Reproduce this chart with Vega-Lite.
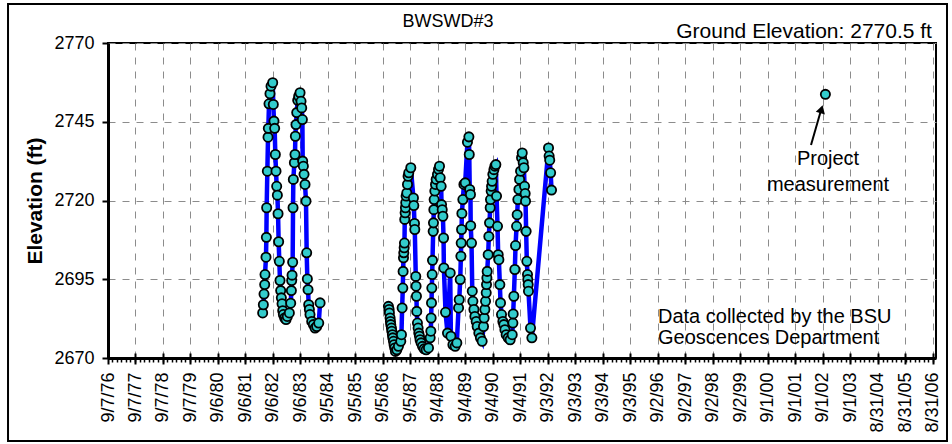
{
  "$schema": "https://vega.github.io/schema/vega-lite/v6.json",
  "width": 828,
  "height": 315,
  "autosize": "none",
  "padding": {"left": 108, "top": 43, "right": 16, "bottom": 86},
  "background": "white",
  "config": {
    "font": "Liberation Sans",
    "view": {"stroke": "black", "strokeWidth": 2}
  },
  "title": {"text": "BWSWD#3", "fontSize": 18, "fontWeight": "normal", "color": "black", "anchor": "middle", "dx": -74, "offset": -28},
  "datasets": {
    "well": [
      {"date": "1982-04-22", "elev": 2684.3}, {"date": "1982-05-01", "elev": 2686.9}, {"date": "1982-05-10", "elev": 2690.3},
      {"date": "1982-05-19", "elev": 2693.3}, {"date": "1982-05-23", "elev": 2696.5}, {"date": "1982-06-05", "elev": 2702.0},
      {"date": "1982-06-10", "elev": 2708.3}, {"date": "1982-06-14", "elev": 2717.7}, {"date": "1982-06-23", "elev": 2729.3},
      {"date": "1982-07-02", "elev": 2740.1}, {"date": "1982-07-06", "elev": 2742.9}, {"date": "1982-07-15", "elev": 2750.7},
      {"date": "1982-07-28", "elev": 2753.9}, {"date": "1982-08-11", "elev": 2756.3}, {"date": "1982-09-02", "elev": 2757.4},
      {"date": "1982-09-10", "elev": 2750.5}, {"date": "1982-09-19", "elev": 2745.2}, {"date": "1982-09-28", "elev": 2742.9},
      {"date": "1982-10-07", "elev": 2734.6}, {"date": "1982-10-16", "elev": 2729.3}, {"date": "1982-10-25", "elev": 2724.5},
      {"date": "1982-11-03", "elev": 2721.7}, {"date": "1982-11-12", "elev": 2715.8}, {"date": "1982-11-20", "elev": 2706.9},
      {"date": "1982-11-29", "elev": 2700.7}, {"date": "1982-12-08", "elev": 2694.6}, {"date": "1982-12-17", "elev": 2691.4},
      {"date": "1982-12-26", "elev": 2689.1}, {"date": "1983-01-04", "elev": 2687.2}, {"date": "1983-01-13", "elev": 2685.0},
      {"date": "1983-01-22", "elev": 2683.8}, {"date": "1983-02-08", "elev": 2682.7}, {"date": "1983-02-26", "elev": 2682.2},
      {"date": "1983-03-15", "elev": 2683.2}, {"date": "1983-04-11", "elev": 2684.3}, {"date": "1983-04-29", "elev": 2687.4},
      {"date": "1983-05-08", "elev": 2691.4}, {"date": "1983-05-12", "elev": 2694.6}, {"date": "1983-05-17", "elev": 2696.3},
      {"date": "1983-05-25", "elev": 2700.4}, {"date": "1983-05-30", "elev": 2717.7}, {"date": "1983-06-03", "elev": 2726.7},
      {"date": "1983-06-17", "elev": 2732.0}, {"date": "1983-06-25", "elev": 2734.6}, {"date": "1983-06-30", "elev": 2740.4},
      {"date": "1983-07-08", "elev": 2744.1}, {"date": "1983-07-18", "elev": 2747.9}, {"date": "1983-07-31", "elev": 2751.8},
      {"date": "1983-08-13", "elev": 2753.1}, {"date": "1983-08-31", "elev": 2754.2}, {"date": "1983-09-13", "elev": 2751.5},
      {"date": "1983-09-22", "elev": 2749.4}, {"date": "1983-10-01", "elev": 2745.7}, {"date": "1983-10-05", "elev": 2732.5},
      {"date": "1983-10-14", "elev": 2730.9}, {"date": "1983-10-23", "elev": 2728.3}, {"date": "1983-11-05", "elev": 2725.1},
      {"date": "1983-11-18", "elev": 2719.8}, {"date": "1983-11-27", "elev": 2703.4}, {"date": "1983-12-06", "elev": 2695.1},
      {"date": "1983-12-15", "elev": 2691.7}, {"date": "1983-12-24", "elev": 2686.9}, {"date": "1984-01-02", "elev": 2685.4},
      {"date": "1984-01-10", "elev": 2683.8}, {"date": "1984-02-02", "elev": 2681.6}, {"date": "1984-02-24", "elev": 2680.6},
      {"date": "1984-03-17", "elev": 2679.5}, {"date": "1984-04-08", "elev": 2680.0}, {"date": "1984-05-05", "elev": 2681.1},
      {"date": "1984-05-23", "elev": 2687.5},
      {"date": "1986-11-16", "elev": 2686.4}, {"date": "1986-11-25", "elev": 2685.4}, {"date": "1986-11-29", "elev": 2684.3},
      {"date": "1986-12-08", "elev": 2682.7}, {"date": "1986-12-13", "elev": 2681.6}, {"date": "1986-12-17", "elev": 2680.6},
      {"date": "1986-12-26", "elev": 2679.5}, {"date": "1986-12-31", "elev": 2678.5}, {"date": "1987-01-08", "elev": 2677.4},
      {"date": "1987-01-13", "elev": 2676.4}, {"date": "1987-01-22", "elev": 2675.3}, {"date": "1987-01-30", "elev": 2674.2},
      {"date": "1987-02-08", "elev": 2673.2}, {"date": "1987-02-17", "elev": 2672.1}, {"date": "1987-03-07", "elev": 2672.6},
      {"date": "1987-03-29", "elev": 2673.7}, {"date": "1987-04-29", "elev": 2675.3}, {"date": "1987-05-08", "elev": 2677.4},
      {"date": "1987-05-17", "elev": 2685.9}, {"date": "1987-05-26", "elev": 2692.2}, {"date": "1987-05-30", "elev": 2697.5},
      {"date": "1987-06-04", "elev": 2701.8}, {"date": "1987-06-08", "elev": 2703.4}, {"date": "1987-06-13", "elev": 2705.0},
      {"date": "1987-06-17", "elev": 2706.5}, {"date": "1987-06-21", "elev": 2714.0}, {"date": "1987-06-26", "elev": 2716.1},
      {"date": "1987-06-30", "elev": 2717.7}, {"date": "1987-07-04", "elev": 2719.3}, {"date": "1987-07-09", "elev": 2721.4},
      {"date": "1987-07-18", "elev": 2722.4}, {"date": "1987-07-27", "elev": 2725.1}, {"date": "1987-08-04", "elev": 2727.7},
      {"date": "1987-08-13", "elev": 2728.8}, {"date": "1987-09-09", "elev": 2730.4}, {"date": "1987-10-14", "elev": 2720.8},
      {"date": "1987-10-19", "elev": 2718.4}, {"date": "1987-10-28", "elev": 2712.7}, {"date": "1987-11-01", "elev": 2710.8},
      {"date": "1987-11-14", "elev": 2695.9}, {"date": "1987-11-18", "elev": 2692.8}, {"date": "1987-11-23", "elev": 2689.6},
      {"date": "1987-11-27", "elev": 2684.8}, {"date": "1987-12-06", "elev": 2681.1}, {"date": "1987-12-15", "elev": 2679.5},
      {"date": "1987-12-24", "elev": 2677.9}, {"date": "1988-01-02", "elev": 2676.9}, {"date": "1988-01-10", "elev": 2675.8},
      {"date": "1988-01-24", "elev": 2674.8}, {"date": "1988-02-11", "elev": 2673.7}, {"date": "1988-03-04", "elev": 2672.9},
      {"date": "1988-03-31", "elev": 2672.6}, {"date": "1988-05-01", "elev": 2673.2}, {"date": "1988-05-23", "elev": 2676.4},
      {"date": "1988-06-01", "elev": 2678.5}, {"date": "1988-06-05", "elev": 2682.7}, {"date": "1988-06-10", "elev": 2687.5},
      {"date": "1988-06-14", "elev": 2692.2}, {"date": "1988-06-19", "elev": 2696.5}, {"date": "1988-06-23", "elev": 2701.0},
      {"date": "1988-07-02", "elev": 2710.2}, {"date": "1988-07-06", "elev": 2712.9}, {"date": "1988-07-11", "elev": 2717.1},
      {"date": "1988-07-15", "elev": 2720.3}, {"date": "1988-07-24", "elev": 2723.0}, {"date": "1988-08-02", "elev": 2725.1},
      {"date": "1988-08-11", "elev": 2726.7}, {"date": "1988-08-28", "elev": 2728.3}, {"date": "1988-09-11", "elev": 2729.9},
      {"date": "1988-09-24", "elev": 2730.9}, {"date": "1988-10-03", "elev": 2727.2}, {"date": "1988-10-16", "elev": 2724.5},
      {"date": "1988-10-21", "elev": 2718.7}, {"date": "1988-10-30", "elev": 2717.1}, {"date": "1988-11-08", "elev": 2715.0},
      {"date": "1988-11-17", "elev": 2708.1}, {"date": "1988-11-21", "elev": 2698.6}, {"date": "1988-12-13", "elev": 2684.5},
      {"date": "1989-01-08", "elev": 2677.9}, {"date": "1989-02-13", "elev": 2697.0}, {"date": "1989-02-22", "elev": 2676.9},
      {"date": "1989-03-21", "elev": 2674.2}, {"date": "1989-04-20", "elev": 2673.7}, {"date": "1989-05-12", "elev": 2674.8},
      {"date": "1989-06-04", "elev": 2685.9}, {"date": "1989-06-13", "elev": 2688.5}, {"date": "1989-06-26", "elev": 2694.9},
      {"date": "1989-07-05", "elev": 2702.3}, {"date": "1989-07-09", "elev": 2706.5}, {"date": "1989-07-14", "elev": 2710.8},
      {"date": "1989-07-18", "elev": 2715.9}, {"date": "1989-07-31", "elev": 2720.3}, {"date": "1989-08-14", "elev": 2725.1},
      {"date": "1989-08-31", "elev": 2725.6}, {"date": "1989-09-30", "elev": 2738.5}, {"date": "1989-10-19", "elev": 2740.2},
      {"date": "1989-10-24", "elev": 2734.6}, {"date": "1989-10-30", "elev": 2723.5}, {"date": "1989-11-09", "elev": 2721.9},
      {"date": "1989-11-12", "elev": 2712.0}, {"date": "1989-11-23", "elev": 2706.5}, {"date": "1989-12-03", "elev": 2691.2},
      {"date": "1989-12-11", "elev": 2688.0}, {"date": "1989-12-25", "elev": 2685.4}, {"date": "1990-01-07", "elev": 2683.2},
      {"date": "1990-01-24", "elev": 2681.6}, {"date": "1990-02-06", "elev": 2680.0}, {"date": "1990-02-28", "elev": 2677.9},
      {"date": "1990-03-21", "elev": 2676.4}, {"date": "1990-04-13", "elev": 2675.3}, {"date": "1990-05-01", "elev": 2680.0},
      {"date": "1990-05-10", "elev": 2682.7}, {"date": "1990-05-19", "elev": 2685.4}, {"date": "1990-05-28", "elev": 2688.0},
      {"date": "1990-06-06", "elev": 2690.7}, {"date": "1990-06-10", "elev": 2693.3}, {"date": "1990-06-15", "elev": 2695.4},
      {"date": "1990-06-19", "elev": 2697.5}, {"date": "1990-07-02", "elev": 2702.8}, {"date": "1990-07-11", "elev": 2708.6},
      {"date": "1990-07-20", "elev": 2712.9}, {"date": "1990-07-29", "elev": 2717.7}, {"date": "1990-08-02", "elev": 2720.3},
      {"date": "1990-08-11", "elev": 2723.0}, {"date": "1990-08-16", "elev": 2724.5}, {"date": "1990-08-24", "elev": 2726.1},
      {"date": "1990-09-02", "elev": 2728.3}, {"date": "1990-09-16", "elev": 2729.8}, {"date": "1990-09-29", "elev": 2730.9},
      {"date": "1990-10-12", "elev": 2731.4}, {"date": "1990-10-21", "elev": 2721.4}, {"date": "1990-11-03", "elev": 2711.8},
      {"date": "1990-11-12", "elev": 2702.8}, {"date": "1990-11-21", "elev": 2701.2}, {"date": "1990-12-04", "elev": 2693.3},
      {"date": "1990-12-13", "elev": 2687.5}, {"date": "1990-12-26", "elev": 2683.8}, {"date": "1991-01-13", "elev": 2681.6},
      {"date": "1991-01-26", "elev": 2680.6}, {"date": "1991-02-09", "elev": 2679.0}, {"date": "1991-02-26", "elev": 2677.4},
      {"date": "1991-03-24", "elev": 2676.4}, {"date": "1991-04-20", "elev": 2675.8}, {"date": "1991-05-17", "elev": 2677.4},
      {"date": "1991-05-26", "elev": 2681.1}, {"date": "1991-05-30", "elev": 2684.0}, {"date": "1991-06-08", "elev": 2689.6},
      {"date": "1991-06-21", "elev": 2698.1}, {"date": "1991-06-30", "elev": 2705.7}, {"date": "1991-07-14", "elev": 2711.8},
      {"date": "1991-07-22", "elev": 2715.5}, {"date": "1991-07-31", "elev": 2720.3}, {"date": "1991-08-14", "elev": 2723.5},
      {"date": "1991-08-23", "elev": 2726.7}, {"date": "1991-09-05", "elev": 2729.3}, {"date": "1991-09-18", "elev": 2733.6},
      {"date": "1991-09-27", "elev": 2735.1}, {"date": "1991-10-10", "elev": 2732.0}, {"date": "1991-10-19", "elev": 2730.4},
      {"date": "1991-10-28", "elev": 2724.5}, {"date": "1991-11-05", "elev": 2722.2}, {"date": "1991-11-10", "elev": 2719.8},
      {"date": "1991-11-18", "elev": 2710.2}, {"date": "1991-11-27", "elev": 2700.7}, {"date": "1991-12-06", "elev": 2696.5},
      {"date": "1991-12-10", "elev": 2694.9}, {"date": "1991-12-15", "elev": 2693.3}, {"date": "1991-12-19", "elev": 2691.2},
      {"date": "1992-01-15", "elev": 2679.5}, {"date": "1992-02-02", "elev": 2676.4}, {"date": "1992-09-10", "elev": 2736.7},
      {"date": "1992-09-18", "elev": 2734.1}, {"date": "1992-09-26", "elev": 2732.8}, {"date": "1992-10-08", "elev": 2728.8},
      {"date": "1992-10-20", "elev": 2723.3}
    ],
    "project": [
      {"date": "2002-10-03", "elev": 2753.7}
    ]
  },
  "resolve": {"axis": {"x": "independent"}},
  "layer": [
    {
      "data": {"values": [{}]},
      "mark": {"type": "rect", "fill": "transparent", "stroke": "black", "strokeWidth": 2, "clip": false},
      "encoding": {
        "x": {"datum": {"year": 1973, "month": 1, "date": 19, "utc": true}, "type": "temporal", "axis": null},
        "x2": {"datum": {"year": 2007, "month": 3, "date": 5, "utc": true}},
        "y": {"datum": 2782.4, "type": "quantitative"},
        "y2": {"datum": 2643.65}
      }
    },
    {
      "data": {"name": "well"},
      "transform": [{"filter": {"field": "date", "lt": {"year": 1985, "month": 1, "date": 1, "utc": true}}}],
      "mark": {"type": "line", "color": "#0000FF", "strokeWidth": 4.5},
      "encoding": {
        "x": {
          "field": "date", "type": "temporal",
          "scale": {"type": "utc", "domain": [{"year": 1976, "month": 9, "date": 7, "utc": true}, {"year": 2006, "month": 10, "date": 10, "utc": true}]},
          "axis": {
            "orient": "bottom", "title": null,
            "values": [
              {"year": 1976, "month": 9, "date": 7, "utc": true}, {"year": 1977, "month": 9, "date": 7, "utc": true},
              {"year": 1978, "month": 9, "date": 7, "utc": true}, {"year": 1979, "month": 9, "date": 7, "utc": true},
              {"year": 1980, "month": 9, "date": 6, "utc": true}, {"year": 1981, "month": 9, "date": 6, "utc": true},
              {"year": 1982, "month": 9, "date": 6, "utc": true}, {"year": 1983, "month": 9, "date": 6, "utc": true},
              {"year": 1984, "month": 9, "date": 5, "utc": true}, {"year": 1985, "month": 9, "date": 5, "utc": true},
              {"year": 1986, "month": 9, "date": 5, "utc": true}, {"year": 1987, "month": 9, "date": 5, "utc": true},
              {"year": 1988, "month": 9, "date": 4, "utc": true}, {"year": 1989, "month": 9, "date": 4, "utc": true},
              {"year": 1990, "month": 9, "date": 4, "utc": true}, {"year": 1991, "month": 9, "date": 4, "utc": true},
              {"year": 1992, "month": 9, "date": 3, "utc": true}, {"year": 1993, "month": 9, "date": 3, "utc": true},
              {"year": 1994, "month": 9, "date": 3, "utc": true}, {"year": 1995, "month": 9, "date": 3, "utc": true},
              {"year": 1996, "month": 9, "date": 2, "utc": true}, {"year": 1997, "month": 9, "date": 2, "utc": true},
              {"year": 1998, "month": 9, "date": 2, "utc": true}, {"year": 1999, "month": 9, "date": 2, "utc": true},
              {"year": 2000, "month": 9, "date": 1, "utc": true}, {"year": 2001, "month": 9, "date": 1, "utc": true},
              {"year": 2002, "month": 9, "date": 1, "utc": true}, {"year": 2003, "month": 9, "date": 1, "utc": true},
              {"year": 2004, "month": 8, "date": 31, "utc": true}, {"year": 2005, "month": 8, "date": 31, "utc": true},
              {"year": 2006, "month": 8, "date": 31, "utc": true}
            ],
            "labelExpr": "utcFormat(datum.value, '%-m/%-d/%y')",
            "labelAngle": 270, "labelFontSize": 18, "labelColor": "black", "labelPadding": 8,
            "labelOverlap": false, "labelFlush": false, "labelBound": false,
            "tickSize": 6, "tickWidth": 2, "tickColor": "black",
            "domainColor": "black", "domainWidth": 3,
            "grid": true, "gridColor": "#8c8c8c", "gridDash": [7, 7], "gridWidth": 1
          }
        },
        "y": {
          "field": "elev", "type": "quantitative",
          "scale": {"domain": [2670, 2770], "nice": false, "zero": false},
          "axis": {
            "title": "Elevation (ft)", "titleFontSize": 21, "titleFontWeight": "bold", "titleColor": "black", "titlePadding": 8,
            "values": [2670, 2695, 2720, 2745, 2770], "format": "d",
            "labelFontSize": 18, "labelColor": "black", "labelPadding": 8,
            "tickSize": 6, "tickWidth": 2, "tickColor": "black",
            "domainColor": "black", "domainWidth": 3,
            "grid": true, "gridColor": "#8c8c8c", "gridDash": [7, 7], "gridWidth": 1
          }
        }
      }
    },
    {
      "data": {"name": "well"},
      "transform": [{"filter": {"field": "date", "gte": {"year": 1985, "month": 1, "date": 1, "utc": true}}}],
      "mark": {"type": "line", "color": "#0000FF", "strokeWidth": 4.5},
      "encoding": {
        "x": {"field": "date", "type": "temporal", "axis": null},
        "y": {"field": "elev", "type": "quantitative"}
      }
    },
    {
      "data": {"name": "well"},
      "mark": {"type": "point", "shape": "circle", "filled": true, "fill": "#33CCCC", "stroke": "black", "strokeWidth": 1.8, "size": 85, "opacity": 1},
      "encoding": {
        "x": {
          "field": "date", "type": "temporal",
          "axis": {"orient": "bottom", "title": null, "tickCount": {"interval": "month", "step": 2}, "labels": false, "domain": false, "grid": false, "tickSize": 4, "tickWidth": 1.5, "tickColor": "black"}
        },
        "y": {"field": "elev", "type": "quantitative"}
      }
    },
    {
      "data": {"name": "project"},
      "mark": {"type": "point", "shape": "circle", "filled": true, "fill": "#33CCCC", "stroke": "black", "strokeWidth": 1.8, "size": 85, "opacity": 1},
      "encoding": {
        "x": {
          "field": "date", "type": "temporal",
          "axis": {
            "orient": "bottom", "title": null, "labels": false, "domain": false, "grid": false,
            "tickSize": -5, "tickWidth": 2, "tickColor": "black",
            "values": [
              {"year": 1976, "month": 9, "date": 7, "utc": true}, {"year": 1977, "month": 9, "date": 7, "utc": true},
              {"year": 1978, "month": 9, "date": 7, "utc": true}, {"year": 1979, "month": 9, "date": 7, "utc": true},
              {"year": 1980, "month": 9, "date": 6, "utc": true}, {"year": 1981, "month": 9, "date": 6, "utc": true},
              {"year": 1982, "month": 9, "date": 6, "utc": true}, {"year": 1983, "month": 9, "date": 6, "utc": true},
              {"year": 1984, "month": 9, "date": 5, "utc": true}, {"year": 1985, "month": 9, "date": 5, "utc": true},
              {"year": 1986, "month": 9, "date": 5, "utc": true}, {"year": 1987, "month": 9, "date": 5, "utc": true},
              {"year": 1988, "month": 9, "date": 4, "utc": true}, {"year": 1989, "month": 9, "date": 4, "utc": true},
              {"year": 1990, "month": 9, "date": 4, "utc": true}, {"year": 1991, "month": 9, "date": 4, "utc": true},
              {"year": 1992, "month": 9, "date": 3, "utc": true}, {"year": 1993, "month": 9, "date": 3, "utc": true},
              {"year": 1994, "month": 9, "date": 3, "utc": true}, {"year": 1995, "month": 9, "date": 3, "utc": true},
              {"year": 1996, "month": 9, "date": 2, "utc": true}, {"year": 1997, "month": 9, "date": 2, "utc": true},
              {"year": 1998, "month": 9, "date": 2, "utc": true}, {"year": 1999, "month": 9, "date": 2, "utc": true},
              {"year": 2000, "month": 9, "date": 1, "utc": true}, {"year": 2001, "month": 9, "date": 1, "utc": true},
              {"year": 2002, "month": 9, "date": 1, "utc": true}, {"year": 2003, "month": 9, "date": 1, "utc": true},
              {"year": 2004, "month": 8, "date": 31, "utc": true}, {"year": 2005, "month": 8, "date": 31, "utc": true},
              {"year": 2006, "month": 8, "date": 31, "utc": true}
            ]
          }
        },
        "y": {"field": "elev", "type": "quantitative"}
      }
    },
    {
      "data": {"values": [{}]},
      "mark": {"type": "text", "text": "Ground Elevation: 2770.5 ft", "align": "right", "baseline": "alphabetic", "fontSize": 21, "color": "black", "clip": false},
      "encoding": {
        "x": {"datum": {"year": 2006, "month": 8, "date": 17, "utc": true}, "type": "temporal", "axis": null},
        "y": {"datum": 2771.6, "type": "quantitative"}
      }
    },
    {
      "data": {"values": [{}]},
      "mark": {"type": "text", "text": ["Project", "measurement"], "lineHeight": 26, "align": "center", "baseline": "alphabetic", "fontSize": 20, "color": "black"},
      "encoding": {
        "x": {"datum": {"year": 2002, "month": 11, "date": 7, "utc": true}, "type": "temporal", "axis": null},
        "y": {"datum": 2731.3, "type": "quantitative"}
      }
    },
    {
      "data": {"values": [{}]},
      "mark": {"type": "text", "text": ["Data collected by the BSU", "Geoscences Department"], "lineHeight": 21, "align": "left", "baseline": "alphabetic", "fontSize": 20, "color": "black"},
      "encoding": {
        "x": {"datum": {"year": 1996, "month": 9, "date": 2, "utc": true}, "type": "temporal", "axis": null},
        "y": {"datum": 2681.2, "type": "quantitative"}
      }
    },
    {
      "data": {"values": [{}]},
      "mark": {"type": "rule", "color": "black", "strokeWidth": 2},
      "encoding": {
        "x": {"datum": {"year": 2002, "month": 3, "date": 26, "utc": true}, "type": "temporal", "axis": null},
        "x2": {"datum": {"year": 2002, "month": 7, "date": 30, "utc": true}},
        "y": {"datum": 2737.6, "type": "quantitative"},
        "y2": {"datum": 2748.1}
      }
    },
    {
      "data": {"values": [{}]},
      "mark": {"type": "point", "shape": "triangle-up", "filled": true, "color": "black", "size": 90, "angle": 16, "opacity": 1},
      "encoding": {
        "x": {"datum": {"year": 2002, "month": 8, "date": 12, "utc": true}, "type": "temporal", "axis": null},
        "y": {"datum": 2749.0, "type": "quantitative"}
      }
    }
  ]
}
